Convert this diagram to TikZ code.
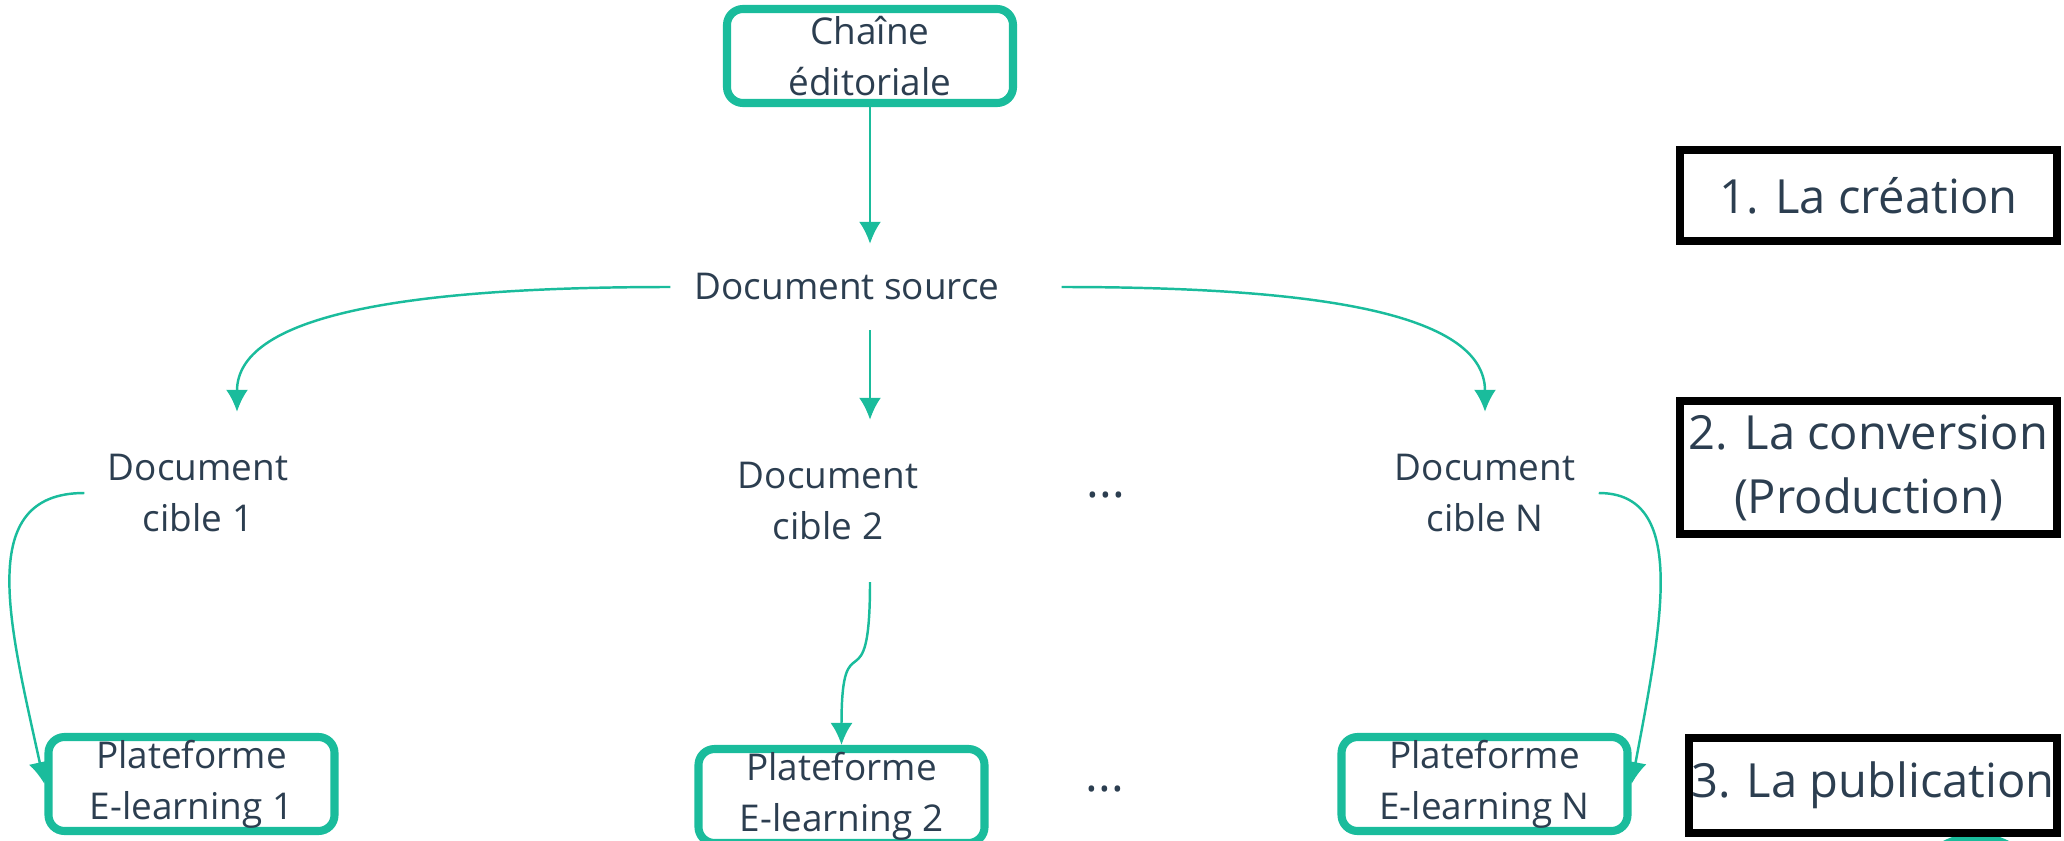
\documentclass[tikz,border=0pt]{standalone}
\usepackage{fontspec}
\setmainfont{Open Sans}
\usepackage{tikz}
\usepackage{color}
\usetikzlibrary{positioning}
\usetikzlibrary{calc}
\usetikzlibrary{arrows.meta}
\definecolor{mint}{RGB}{26,188,156}
\definecolor{slate}{RGB}{44,62,80}
\tikzset{every picture/.style={line width=0.7pt},
  greenbox/.style={draw=mint,line width=2.3pt,rounded corners=0.16cm,minimum width=2.86cm,minimum height=0.94cm,inner sep=0pt,align=center},
  stepbox/.style={draw=black,line width=2.2pt,inner sep=0pt,align=center,font=\fontsize{13.4}{18.2}\selectfont},
  doc/.style={align=center,minimum width=2.25cm,minimum height=1.6cm,inner sep=0pt},
  etc/.style={font=\fontsize{13.6}{16}\selectfont},
  link/.style={draw=mint,line width=0.7pt,-{Latex[length=0.22cm,width=0.22cm]}}}

\begin{document}
\begin{tikzpicture}[every node/.style={text=slate,font=\fontsize{10.5}{14.5}\selectfont}]
\useasboundingbox (0,0) rectangle (20.64cm,-8.40cm);
\clip (0,0) rectangle (20.64cm,-8.40cm);

\node (chaine) at (8.70cm,-0.56cm) [greenbox] {Chaîne\\éditoriale};
\node (source) at (8.47cm,-2.87cm) [inner xsep=0.23cm, minimum height=0.84cm] {Document source};

\node (cible1) at (1.98cm,-4.93cm) [doc] {Document\\cible 1};
\node (cible2) at (8.28cm,-5.01cm) [doc] {Document\\cible 2};
\node (cibleN) at (14.85cm,-4.93cm) [doc] {Document\\cible N};
\node (dots1) at (11.06cm,-4.95cm) [etc] {...};

\node (plat1) at (1.915cm,-7.84cm) [greenbox] {Plateforme\\E-learning 1};
\node (plat2) at (8.415cm,-7.96cm) [greenbox] {Plateforme\\E-learning 2};
\node (platN) at (14.845cm,-7.84cm) [greenbox] {Plateforme\\E-learning N};
\node (dots2) at (11.05cm,-7.89cm) [etc] {...};

\node (pin) at (19.76cm,-9.05cm) [circle, fill=mint, minimum size=1.44cm, inner sep=0pt] {};
\node (crea) at (18.685cm,-1.955cm) [stepbox, minimum width=3.77cm, minimum height=0.91cm] {1. La création};
\node (conv) at (18.685cm,-4.675cm) [stepbox, minimum width=3.77cm, minimum height=1.33cm] {2. La conversion\\(Production)};
\node (publi) at (18.73cm,-7.855cm) [stepbox, minimum width=3.68cm, minimum height=0.95cm] {3. La publication};

\draw [link] (chaine) -- (chaine |- source.north);
\draw [link] (source.west) .. controls +(-2.5,0) and +(0,1.0) .. ([xshift=0.39cm]cible1.north);
\draw [link] ([xshift=0.38cm]source.east) .. controls +(2.5,0) and +(0,1.0) .. (cibleN.north);
\draw [link] (chaine |- source.south) -- (chaine |- cible2.north);
\draw [link] (chaine |- cible2.south) .. controls +(0,-1.3) and +(0,1.3) .. (plat2.north);
\draw [link] (cible1.west) .. controls +(-1.1,0) and +(-0.35,1.6) .. (plat1.west);
\draw [link] (cibleN.east) .. controls +(0.9,0) and +(0.3,1.6) .. (platN.east);
\end{tikzpicture}
\end{document}
